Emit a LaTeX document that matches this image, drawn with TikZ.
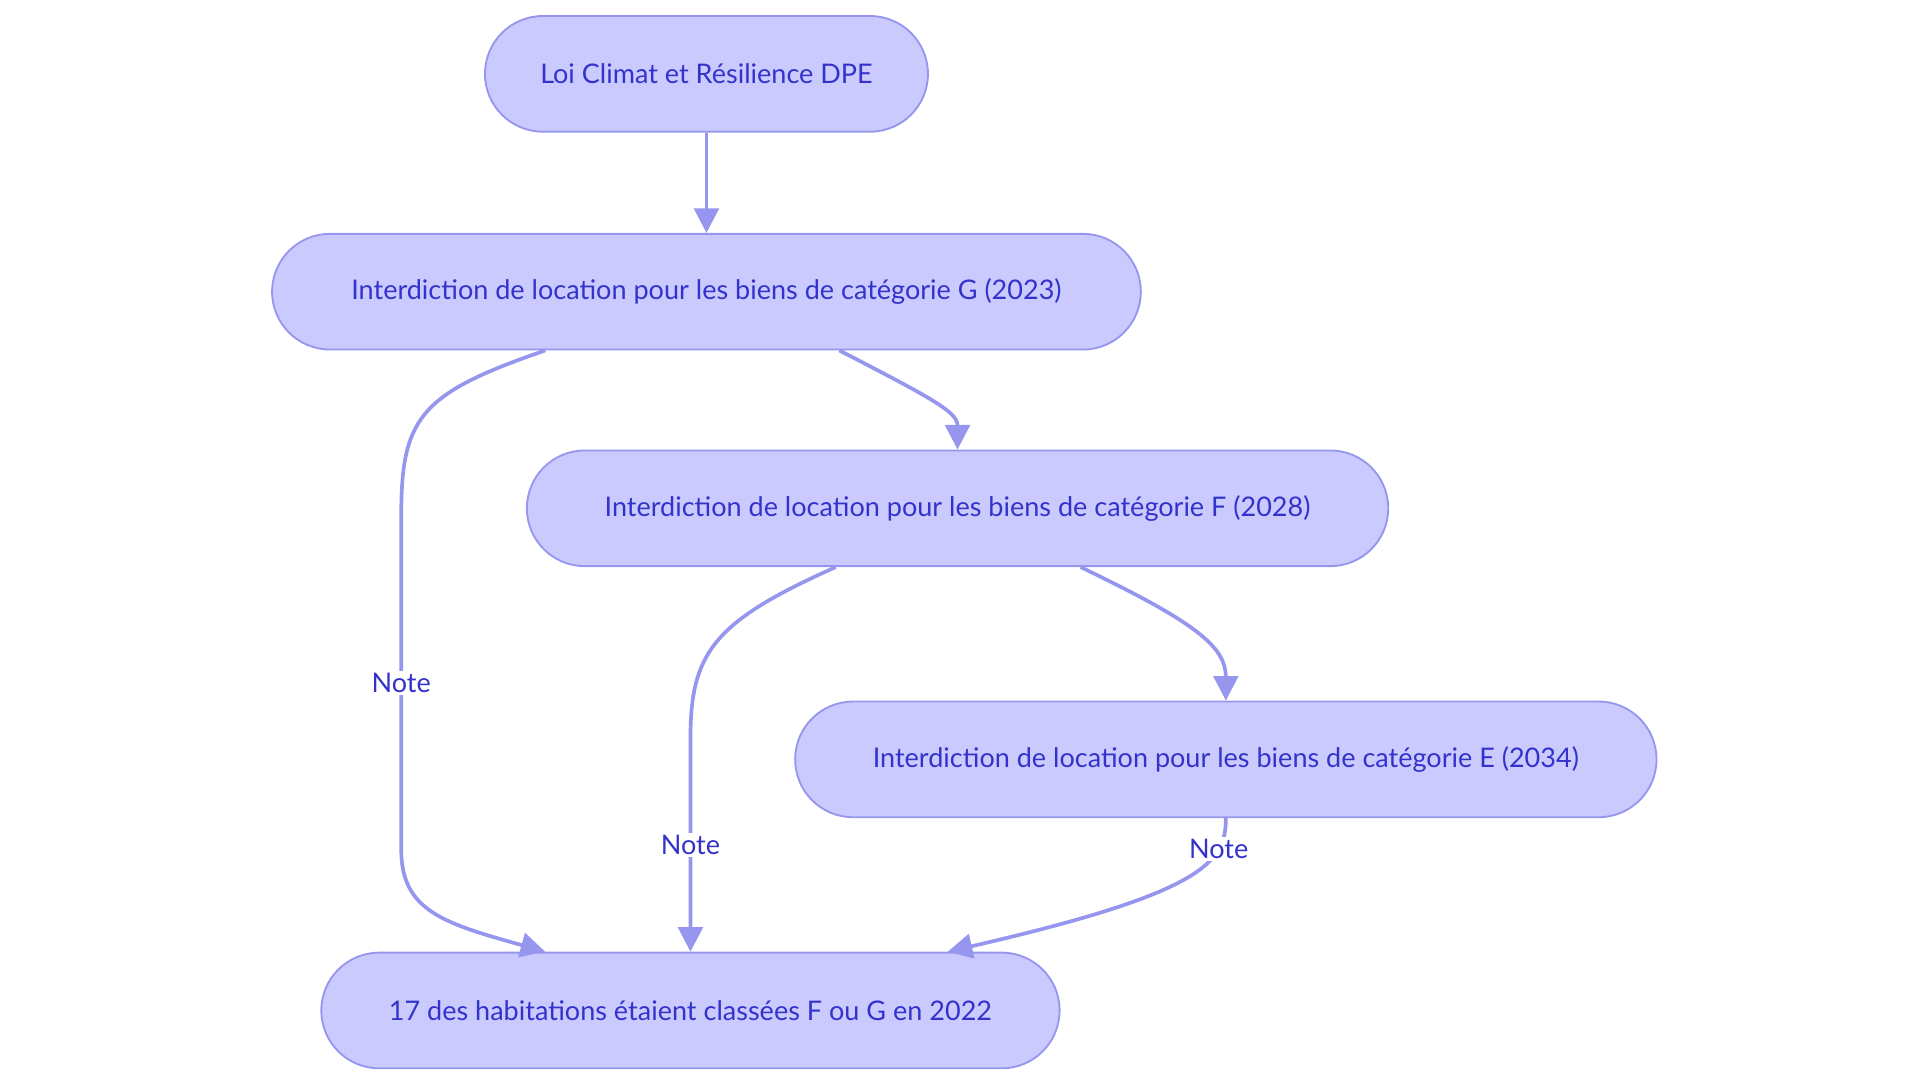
\documentclass[tikz,border=0pt]{standalone}
\usepackage{fontspec}
\setmainfont{Lato}
\usetikzlibrary{calc, arrows.meta}
\definecolor{boxfill}{RGB}{202, 202, 255}
\definecolor{boxline}{RGB}{150, 150, 238}
\definecolor{boxtext}{RGB}{51, 51, 204}
\tikzset{
  phase/.style = {rectangle, rounded corners=0.94cm, minimum height=1.88cm,
                 draw=boxline, fill=boxfill, text=boxtext, font=\fontsize{12.5}{15}\selectfont,
                 line width=0.3mm},
  link/.style = {draw=boxline, line width=0.6mm, -{Triangle[length=4mm, width=4mm]}},
  note/.style = {fill=white, text=boxtext, font=\fontsize{12.5}{15}\selectfont, inner sep=1pt}
}
\begin{document}
\begin{tikzpicture}[x=0.02cm, y=-0.02cm]
        \useasboundingbox (0,0) rectangle (1560,880);

        \node (Loi) [phase, minimum width=7.2cm] at (574,60) {Loi Climat et Résilience DPE};
        \node (CatG) [phase, minimum width=14.12cm] at (574,237) {Interdiction de location pour les biens de catégorie G (2023)};
        \node (CatF) [phase, minimum width=14cm] at (778,413) {Interdiction de location pour les biens de catégorie F (2028)};
        \node (CatE) [phase, minimum width=14cm] at (996,617) {Interdiction de location pour les biens de catégorie E (2034)};
        \node (Stat) [phase, minimum width=12cm] at (561,821) {17 des habitations étaient classées F ou G en 2022};

        \draw [link] (Loi) -- (CatG);
        \draw [link] ($(CatG.south)+(108,0)$) .. controls (760,325) and (778,335) .. (CatF.north);
        \draw [link] ($(CatG.south)+(-131,0)$) .. controls (340,320) and (326,340) .. (326,420)
              -- node[note] {Note} (326,690) .. controls (326,740) and (360,750) .. ($(Stat.north)+(-118,0)$);
        \draw [link] ($(CatF.south)+(-99,0)$) .. controls (580,505) and (561,530) .. (561,600)
              -- node[note] {Note} (Stat.north);
        \draw [link] ($(CatF.south)+(100,0)$) .. controls (970,505) and (996,525) .. (CatE.north);
        \draw [link] (CatE.south) .. controls (996,700) and (980,725) .. node[note, pos=0.25] {Note} ($(Stat.north)+(209,0)$);
\end{tikzpicture}
\end{document}
